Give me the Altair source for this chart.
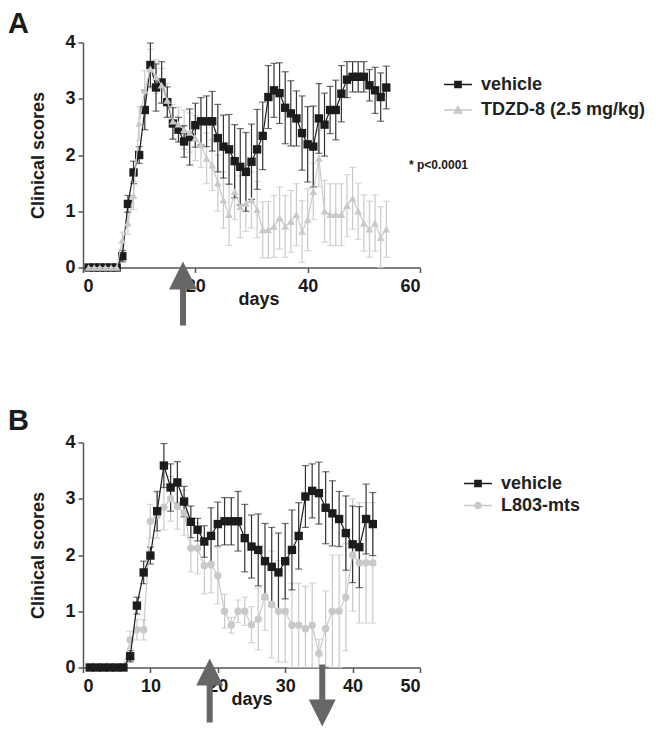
import altair as alt
import pandas as pd

FONT = "Liberation Sans"

# ---------------- data ----------------
days_A = list(range(1, 55))
vehicle_A = [0, 0, 0, 0, 0, 0,
             0.2, 1.13, 1.69, 2.0, 2.8, 3.6, 3.2, 3.29, 2.94, 2.56, 2.45, 2.24, 2.32, 2.53,
             2.6, 2.6, 2.6, 2.3, 2.15, 2.1, 1.89, 1.79, 1.7, 1.88, 2.1, 2.34, 3.03, 3.15,
             3.1, 2.84, 2.74, 2.65, 2.39, 2.19, 2.15, 2.65, 2.54, 2.8, 2.8, 3.09, 3.34, 3.39,
             3.39, 3.39, 3.24, 3.15, 3.03, 3.2]
vehicle_A_sem = [0, 0, 0, 0, 0, 0,
                 0.1, 0.15, 0.2, 0.15, 0.35, 0.39, 0.42, 0.37, 0.27, 0.28, 0.22, 0.28, 0.5, 0.39,
                 0.42, 0.45, 0.53, 0.6, 0.56, 0.62, 0.65, 0.68, 0.7, 0.67, 0.71, 0.6, 0.56, 0.48,
                 0.54, 0.64, 0.58, 0.49, 0.66, 0.67, 0.72, 0.62, 0.56, 0.42, 0.53, 0.5, 0.32, 0.27,
                 0.27, 0.27, 0.28, 0.41, 0.43, 0.38]
tdzd_A = [0, 0, 0, 0, 0, 0,
          0.48, 0.79, 1.28, 2.56, 3.15, 3.53, 3.39, 3.24, 2.97, 2.6, 2.55, 2.45, 2.4, 2.3,
          2.18, 1.94, 1.82, 1.5, 1.2, 0.94, 1.35, 1.08, 1.14, 1.2, 1.03, 0.67, 0.67, 0.73,
          0.88, 0.73, 0.82, 0.94, 0.64, 0.85, 1.35, 1.94, 1.0, 0.94, 0.94, 0.94, 1.1, 1.23,
          1.0, 0.79, 0.68, 0.79, 0.53, 0.68]
tdzd_A_sem = [0, 0, 0, 0, 0, 0,
              0.15, 0.2, 0.25, 0.3, 0.35, 0.35, 0.3, 0.3, 0.3, 0.3, 0.3, 0.35, 0.35, 0.4,
              0.4, 0.45, 0.45, 0.5, 0.5, 0.55, 0.5, 0.55, 0.5, 0.5, 0.5, 0.5, 0.5, 0.55,
              0.55, 0.55, 0.55, 0.55, 0.55, 0.55, 0.5, 0.5, 0.55, 0.55, 0.55, 0.55, 0.55, 0.55,
              0.5, 0.5, 0.5, 0.5, 0.55, 0.5]

days_B = list(range(1, 44))
vehicle_B = [0, 0, 0, 0, 0, 0,
             0.2, 1.1, 1.69, 1.99, 2.78, 3.59, 3.2, 3.29, 2.95, 2.59, 2.45, 2.24, 2.34, 2.55,
             2.6, 2.6, 2.6, 2.3, 2.15, 2.09, 1.89, 1.79, 1.69, 1.89, 2.09, 2.34, 3.04, 3.14,
             3.1, 2.84, 2.74, 2.64, 2.39, 2.19, 2.14, 2.64, 2.55]
vehicle_B_sem = [0, 0, 0, 0, 0, 0,
                 0.1, 0.15, 0.2, 0.15, 0.35, 0.39, 0.42, 0.37, 0.27, 0.28, 0.2, 0.28, 0.5, 0.39,
                 0.42, 0.42, 0.53, 0.6, 0.56, 0.64, 0.67, 0.7, 0.7, 0.67, 0.71, 0.59, 0.55, 0.48,
                 0.55, 0.64, 0.58, 0.49, 0.66, 0.68, 0.72, 0.62, 0.56]
l803_B = [0, 0, 0, 0, 0, 0,
          0.49, 0.67, 0.67, 2.6, 2.7, 2.85, 3.0, 2.86, 2.75, 2.12, 2.12, 1.81, 1.83, 1.63,
          1.0, 0.75, 1.0, 1.0, 0.76, 0.86, 1.26, 1.12, 1.0, 1.0, 0.75, 0.75, 0.69, 0.75,
          0.25, 0.69, 1.0, 1.0, 1.25, 2.0, 1.86, 1.86, 1.86]
l803_B_sem = [0, 0, 0, 0, 0, 0,
              0.15, 0.18, 0.18, 0.3, 0.4, 0.4, 0.4, 0.4, 0.4, 0.42, 0.45, 0.5, 0.5, 0.5,
              0.3, 0.14, 0.2, 0.25, 0.32, 0.55, 0.6, 0.95, 0.9, 0.9, 0.75, 0.75, 0.75, 0.75,
              0.25, 0.67, 1.0, 1.0, 0.95, 1.0, 1.07, 1.07, 1.07]

series_A = ["vehicle", "TDZD-8 (2.5 mg/kg)"]
series_B = ["vehicle", "L803-mts"]
arrow_up_A = [17.8]
arrow_up_B = [18.8]
arrow_down_B = [35.5]
y_ticks = [0, 1, 2, 3, 4]
x_ticks_A = [0, 20, 40, 60]
x_ticks_B = [0, 10, 20, 30, 40, 50]

# ---------------- styling ----------------
BLACK = "#1c1c1c"
BLACK_ERR = "#333333"
GRAY = "#c9c9c9"
ARROW = "#666666"
W, H = 337, 225


def make_df(days, vals, sems, name):
    return pd.DataFrame({
        "day": days,
        "score": vals,
        "lo": [max(0.0, v - s) for v, s in zip(vals, sems)],
        "hi": [v + s for v, s in zip(vals, sems)],
        "sem": sems,
        "series": [name] * len(days),
    })


def encs(xmax, xticks, title_x):
    xs = alt.Scale(domain=[0, xmax], nice=False, zero=False)
    ys = alt.Scale(domain=[0, 4], nice=False)
    xa = alt.Axis(values=xticks, title="days", labelBaseline="alphabetic", labelPadding=19,
                  titleX=title_x, titleY=37, titleBaseline="alphabetic", titleAnchor="middle")
    ya = alt.Axis(values=y_ticks, title="Clinical scores", labelPadding=3,
                  titleX=-45, titleY=H / 2, titleBaseline="middle", titleAngle=270)
    return xs, ys, xa, ya


def series_layers(df, xs, ys, xa, ya, color, err_color, shape, size):
    base = alt.Chart(df)
    X = alt.X("day:Q", scale=xs, axis=xa)
    err = base.transform_filter("datum.sem > 0")
    bars = err.mark_rule(color=err_color, strokeWidth=1.2).encode(
        x=X, y=alt.Y("lo:Q", scale=ys, axis=ya), y2="hi:Q")
    cap_hi = err.mark_tick(orient="horizontal", size=7, thickness=1.2, color=err_color).encode(
        x=X, y=alt.Y("hi:Q", scale=ys, axis=ya))
    cap_lo = err.mark_tick(orient="horizontal", size=7, thickness=1.2, color=err_color).encode(
        x=X, y=alt.Y("lo:Q", scale=ys, axis=ya))
    line = base.mark_line(color=color, strokeWidth=1.2).encode(
        x=X, y=alt.Y("score:Q", scale=ys, axis=ya))
    pts = base.mark_point(shape=shape, filled=True, size=size, color=color, opacity=1).encode(
        x=X, y=alt.Y("score:Q", scale=ys, axis=ya))
    return [bars, cap_hi, cap_lo], [line, pts]


def legend_layer(df, names, fills, paths, lx, ly, row_pad):
    lg = alt.Legend(orient="none", legendX=lx, legendY=ly, title=None, padding=0,
                    labelFont=FONT, labelFontSize=18, labelFontWeight="bold", labelColor="#222",
                    labelLimit=400, labelOffset=14, symbolSize=196, symbolStrokeWidth=1.4,
                    symbolOpacity=1, rowPadding=row_pad)
    return alt.Chart(df).transform_filter("false").mark_point(filled=True, opacity=1).encode(
        color=alt.Color("series:N", scale=alt.Scale(domain=names, range=fills), legend=lg),
        stroke=alt.Stroke("series:N", scale=alt.Scale(domain=names, range=fills), legend=lg),
        shape=alt.Shape("series:N", scale=alt.Scale(domain=names, range=paths), legend=lg),
    )


def text_layer(txt, x, y, size, align="left", baseline="alphabetic"):
    return alt.Chart(pd.DataFrame({"t": [txt]})).mark_text(
        align=align, baseline=baseline, font=FONT, fontSize=size, fontWeight="bold",
        color="#1a1a1a").encode(text="t:N", x=alt.value(x), y=alt.value(y))


def arrow_layers(days, xs, xa, up, tip_y, head_h, tail_y):
    d = pd.DataFrame({"day": days})
    X = alt.X("day:Q", scale=xs, axis=xa)
    if up:
        base_y = tip_y + head_h
        shaft = alt.Chart(d).mark_rule(color=ARROW, strokeWidth=6).encode(
            x=X, y=alt.value(base_y - 1), y2=alt.value(tail_y))
        head = alt.Chart(d).mark_point(shape="M0,-1L1,1L-1,1Z", filled=True, opacity=1,
                                       size=head_h * head_h, color=ARROW).encode(
            x=X, y=alt.value(tip_y + head_h / 2))
    else:
        base_y = tip_y - head_h
        shaft = alt.Chart(d).mark_rule(color=ARROW, strokeWidth=6).encode(
            x=X, y=alt.value(tail_y), y2=alt.value(base_y + 1))
        head = alt.Chart(d).mark_point(shape="M0,1L1,-1L-1,-1Z", filled=True, opacity=1,
                                       size=head_h * head_h, color=ARROW).encode(
            x=X, y=alt.value(tip_y - head_h / 2))
    return [shaft, head]


LINE_SQ = "M-2,0H2M-0.45,-0.45H0.45V0.45H-0.45Z"
LINE_TRI = "M-2,0H2M0,-0.5L0.55,0.45H-0.55Z"
LINE_CIR = "M-2,0H2M0.45,0A0.45,0.45,0,1,1,-0.45,0A0.45,0.45,0,1,1,0.45,0Z"

# ---------------- panel A ----------------
dfA_v = make_df(days_A, vehicle_A, vehicle_A_sem, series_A[0])
dfA_t = make_df(days_A, tdzd_A, tdzd_A_sem, series_A[1])
xsA, ysA, xaA, yaA = encs(60, x_ticks_A, W / 2 + 7)
errV, mainV = series_layers(dfA_v, xsA, ysA, xaA, yaA, BLACK, BLACK_ERR, "square", 70)
errT, mainT = series_layers(dfA_t, xsA, ysA, xaA, yaA, GRAY, GRAY, "triangle-up", 60)
panelA = alt.layer(
    *errT, *errV, *mainV, *mainT,
    *arrow_layers(arrow_up_A, xsA, xaA, True, 219, 28, 283),
    legend_layer(dfA_v, series_A, [BLACK, GRAY], [LINE_SQ, LINE_TRI], 366, 33, 7.5),
    text_layer("* p<0.0001", 326, 126.5, 12),
    text_layer("A", -75, -9.5, 29),
).properties(width=W, height=H)

# ---------------- panel B ----------------
dfB_v = make_df(days_B, vehicle_B, vehicle_B_sem, series_B[0])
dfB_l = make_df(days_B, l803_B, l803_B_sem, series_B[1])
xsB, ysB, xaB, yaB = encs(50, x_ticks_B, W / 2)
errV2, mainV2 = series_layers(dfB_v, xsB, ysB, xaB, yaB, BLACK, BLACK_ERR, "square", 70)
errL, mainL = series_layers(dfB_l, xsB, ysB, xaB, yaB, GRAY, GRAY, "circle", 55)
panelB = alt.layer(
    *errL, *errV2, *mainL, *mainV2,
    *arrow_layers(arrow_up_B, xsB, xaB, True, 216, 27, 280),
    *arrow_layers(arrow_down_B, xsB, xaB, False, 284, 27, 222),
    legend_layer(dfB_v, series_B, [BLACK, GRAY], [LINE_SQ, LINE_CIR], 386, 32, 4),
    text_layer("B", -75, -12.5, 29),
).properties(width=W, height=H)

chart = alt.vconcat(panelA, panelB, spacing=175, bounds="flush").resolve_scale(
    color="independent", stroke="independent", shape="independent"
).resolve_legend(
    color="independent", stroke="independent", shape="independent"
).properties(
    padding={"left": 0, "top": 1.5, "right": 0, "bottom": 0}
).configure_view(stroke=None).configure_axis(
    grid=False,
    domainColor="#555555", domainWidth=1.5,
    tickColor="#555555", tickWidth=1.5, tickSize=5,
    labelFont=FONT, labelFontSize=18, labelFontWeight="bold", labelColor="#1a1a1a",
    titleFont=FONT, titleFontSize=18, titleFontWeight="bold", titleColor="#1a1a1a",
)

chart.save("out.html", embed_options={"renderer": "svg", "actions": False})
